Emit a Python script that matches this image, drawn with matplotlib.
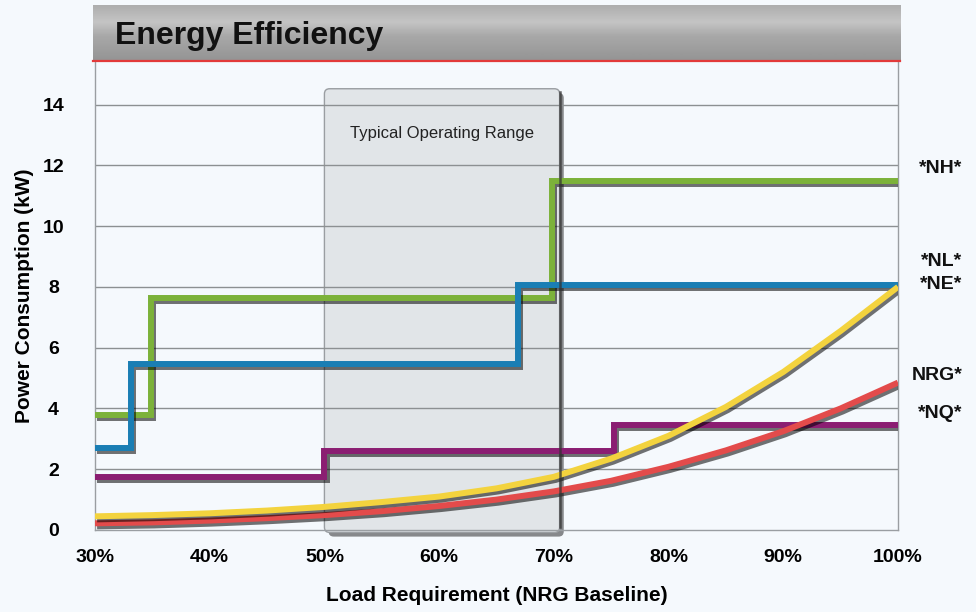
import matplotlib
matplotlib.use("Agg")
import matplotlib.pyplot as plt
import matplotlib.patheffects as pe
from matplotlib.patches import FancyBboxPatch
import numpy as np

# data
load_ticks = [30, 40, 50, 60, 70, 80, 90, 100]
power_ticks = [0, 2, 4, 6, 8, 10, 12, 14]

# step series: x where each level starts, level value (last repeated to close at 100%)
nh_x = [30, 34.9, 69.8, 100]
nh_y = [3.8, 7.65, 11.5, 11.5]
nl_x = [30, 33.1, 66.9, 100]
nl_y = [2.7, 5.45, 8.05, 8.05]
nq_x = [30, 50, 75.2, 100]
nq_y = [1.75, 2.6, 3.47, 3.47]

# curves, read every 5 %
curve_x = [30, 35, 40, 45, 50, 55, 60, 65, 70, 75, 80, 85, 90, 95, 100]
ne_y = [0.45, 0.49, 0.55, 0.64, 0.76, 0.92, 1.1, 1.37, 1.75, 2.35, 3.1, 4.05, 5.2, 6.55, 8.0]
nrg_y = [0.22, 0.25, 0.31, 0.39, 0.49, 0.62, 0.79, 1.0, 1.27, 1.62, 2.08, 2.62, 3.25, 4.0, 4.85]

labels = ["*NH*", "*NL*", "*NE*", "NRG*", "*NQ*"]
label_y = [11.9, 8.85, 8.07, 5.07, 3.85]

bg = "#f5f9fd"
plt.rcParams['font.family'] = ['Liberation Sans', 'DejaVu Sans']

fig = plt.figure(figsize=(9.76, 6.12), dpi=100, facecolor=bg)
ax = fig.add_axes([95 / 976, 82 / 612, 803 / 976, 468 / 612], facecolor=bg)

# title banner with a grey gradient
bax = fig.add_axes([93 / 976, 551 / 612, 807 / 976, 56 / 612])
stops = [0.0, 0.3, 0.55, 1.0]
levels = [0.68, 0.77, 0.66, 0.58]
grad = np.interp(np.linspace(0, 1, 100), stops, levels).reshape(-1, 1)
bax.imshow(grad, aspect="auto", cmap="gray", vmin=0, vmax=1, extent=(0, 1, 0, 1), origin="upper")
bax.set_axis_off()
bax.text(0.027, 0.44, "Energy Efficiency", transform=bax.transAxes, fontsize=23,
         fontweight="bold", va="center", ha="left", color="#111111")
fig.add_artist(plt.Line2D([93 / 976, 900 / 976], [551 / 612, 551 / 612], color="#e23a3a", lw=1.6))

ax.set_xlim(30, 100)
ax.set_ylim(0, 15.4)

for yv in power_ticks[1:]:
    ax.axhline(yv, color="#8c9092", lw=1.0, zorder=1.2)

# typical operating range box
box = FancyBboxPatch((50, -0.08), 20.5, 14.6, boxstyle="round,pad=0,rounding_size=0.45",
                     mutation_aspect=0.38, facecolor="#e1e5e8", edgecolor="#9a9ea2", lw=1.0,
                     zorder=1, clip_on=False,
                     path_effects=[pe.withSimplePatchShadow(offset=(3, -3), shadow_rgbFace="k", alpha=0.45)])
ax.add_patch(box)
ax.plot([70.5, 70.5], [0.1, 14.4], color="#333333", lw=1.8, alpha=0.75, zorder=4)
ax.text(60.25, 13.05, "Typical Operating Range", ha="center", va="center", fontsize=12, color="#222222")

shadow = [pe.SimpleLineShadow(offset=(1.5, -2.2), shadow_color="k", alpha=0.55), pe.Normal()]

ax.step(nh_x, nh_y, where="post", color="#7cb23a", lw=4.3, zorder=3, path_effects=shadow,
        solid_joinstyle="miter", solid_capstyle="butt")
ax.step(nl_x, nl_y, where="post", color="#1a7eb4", lw=4.3, zorder=3.1, path_effects=shadow,
        solid_joinstyle="miter", solid_capstyle="butt")
ax.step(nq_x, nq_y, where="post", color="#8b1e72", lw=4.3, zorder=3, path_effects=shadow,
        solid_joinstyle="miter", solid_capstyle="butt")
ax.plot(curve_x, nrg_y, color="#e34b4b", lw=4.3, zorder=3.2, path_effects=shadow,
        solid_capstyle="butt", solid_joinstyle="round")
ax.plot(curve_x, ne_y, color="#f3d33e", lw=4.3, zorder=3.3, path_effects=shadow,
        solid_capstyle="butt", solid_joinstyle="round")

for lab, yv in zip(labels, label_y):
    ax.text(105.6, yv, lab, ha="right", va="center", fontsize=14, fontweight="bold",
            color="#111111", clip_on=False)

ax.set_xticks(load_ticks)
ax.set_xticklabels([f"{v}%" for v in load_ticks], fontsize=14, fontweight="bold")
ax.set_yticks(power_ticks)
ax.set_yticklabels([str(v) for v in power_ticks], fontsize=14, fontweight="bold")
ax.tick_params(length=0, pad=14)
ax.tick_params(axis="y", pad=30)
for lab in ax.get_yticklabels():
    lab.set_horizontalalignment("center")

ax.spines["top"].set_visible(False)
for s in ["left", "right", "bottom"]:
    ax.spines[s].set_color("#9a9ea2")
    ax.spines[s].set_linewidth(1.0)

ax.set_xlabel("Load Requirement (NRG Baseline)", fontsize=15, fontweight="bold", labelpad=14)
ax.set_ylabel("Power Consumption (kW)", fontsize=15, fontweight="bold", labelpad=6)

fig.savefig("out.png", dpi=100, facecolor=bg)
